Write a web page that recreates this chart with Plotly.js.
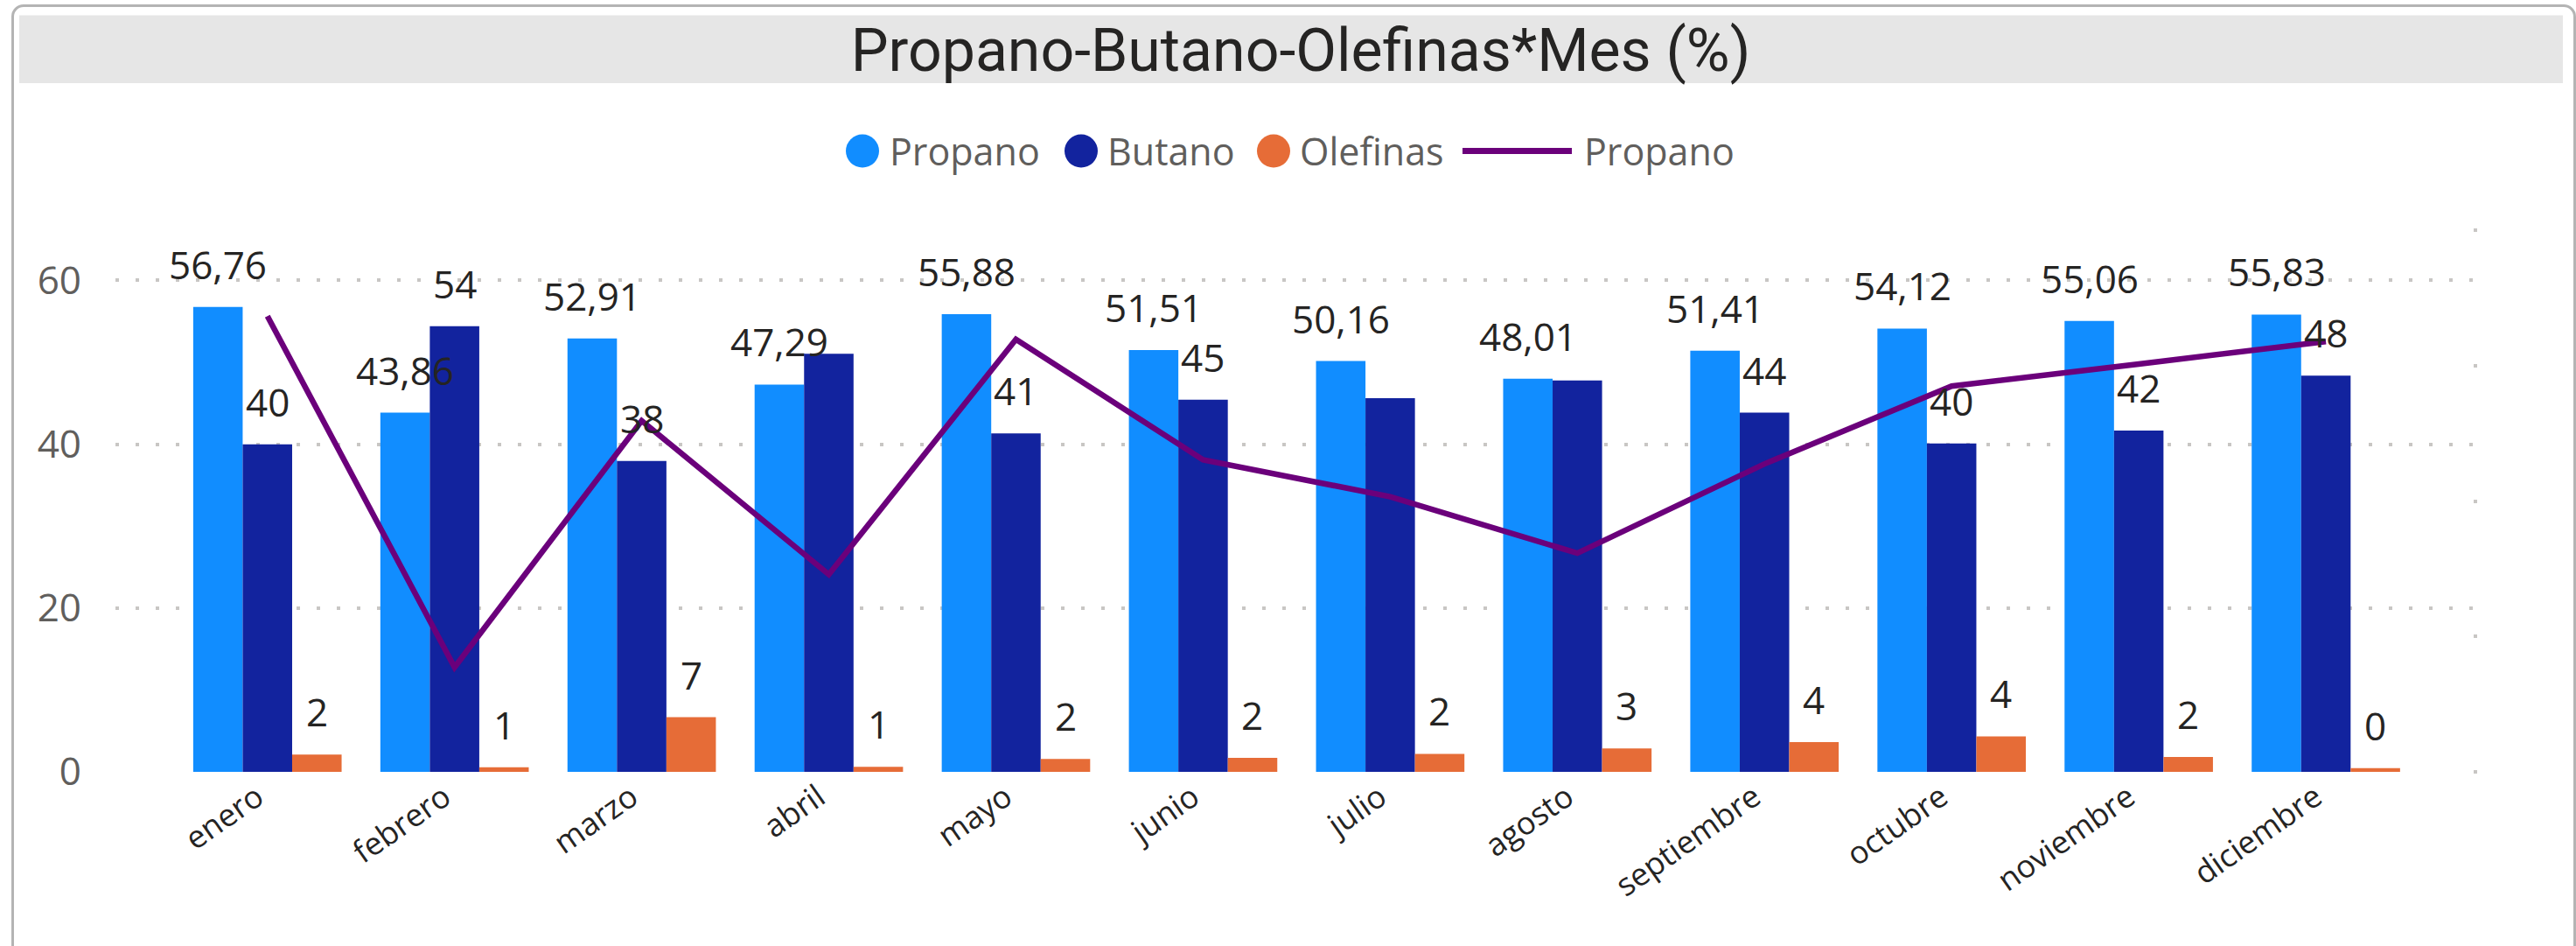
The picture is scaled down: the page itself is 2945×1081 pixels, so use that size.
<!DOCTYPE html>
<html>
<head>
<meta charset="utf-8">
<script src="https://cdn.plot.ly/plotly-3.0.1.min.js"></script>
<style>
  html, body { margin: 0; padding: 0; background: #ffffff; }
  #wrap { position: relative; width: 2945px; height: 1081px; overflow: hidden; }
  #chart { position: absolute; left: 0; top: 0; width: 2945px; height: 1081px; }
  #frame { position: absolute; left: 13px; top: 5px; width: 2926px; height: 1120px;
           border: 3px solid #b4b4b4; border-radius: 14px; pointer-events: none; }
</style>
</head>
<body>
<div id="wrap">
  <div id="chart"></div>
  <div id="frame"></div>
</div>
<script>
// ---- data ----
const months = ['enero','febrero','marzo','abril','mayo','junio','julio','agosto','septiembre','octubre','noviembre','diciembre'];
const propano = [56.76, 43.86, 52.91, 47.29, 55.88, 51.51, 50.16, 48.01, 51.41, 54.12, 55.06, 55.83];
const butano = [40.0, 54.4, 37.95, 51.05, 41.33, 45.43, 45.62, 47.8, 43.86, 40.1, 41.67, 48.38];
const olefinas = [2.1, 0.55, 6.67, 0.62, 1.57, 1.7, 2.2, 2.86, 3.62, 4.33, 1.81, 0.45];
const propanoLinea = [55.65, 12.76, 42.87, 24.1, 52.8, 38.1, 33.6, 26.7, 37.6, 47.1, 49.8, 52.55];
const butanoLabelShown = [true, true, true, false, true, true, false, false, true, true, true, true];
const yTicks = [0, 20, 40, 60];
const legendNames = ['Propano', 'Butano', 'Olefinas', 'Propano'];

// ---- styling ----
const FONT = 'Open Sans, Noto Sans, sans-serif';
const TITLE_FONT = 'Roboto, Open Sans, sans-serif';
const cProp = '#118DFF', cBut = '#12239E', cOle = '#E66C37', cLine = '#6B007B';
const legendColors = [cProp, cBut, cOle, cLine];
const W = 2945, H = 1081;
const plotL = 132, plotR = 2827, plotT = 262.5, plotB = 882;
const yTop = 66.14;
const bargap = 0.207;
const barW = (1 - bargap) / 3;
const px2x = p => (p - plotL) / (plotR - plotL);
const px2y = p => (plotB - p) / (plotB - plotT);

const traces = [
  { type: 'bar', name: legendNames[0], x: months, y: propano, marker: { color: cProp }, hoverinfo: 'skip' },
  { type: 'bar', name: legendNames[1], x: months, y: butano, marker: { color: cBut }, hoverinfo: 'skip' },
  { type: 'bar', name: legendNames[2], x: months, y: olefinas, marker: { color: cOle }, hoverinfo: 'skip' },
  { type: 'scatter', mode: 'lines', name: legendNames[3], x: months, y: propanoLinea, yaxis: 'y2',
    line: { color: cLine, width: 6.5 }, hoverinfo: 'skip' }
];

// ---- data labels ----
const annotations = [];
const series = [
  { vals: propano, fmt: v => v.toFixed(2).replace('.', ','), shown: propano.map(() => true) },
  { vals: butano, fmt: v => String(Math.round(v)), shown: butanoLabelShown },
  { vals: olefinas, fmt: v => String(Math.round(v)), shown: olefinas.map(() => true) }
];
series.forEach((s, k) => {
  s.vals.forEach((v, i) => {
    if (!s.shown[i]) return;
    annotations.push({
      xref: 'x', yref: 'y', x: i + (k - 1) * barW, y: v,
      text: s.fmt(v), showarrow: false, xanchor: 'center', yanchor: 'bottom', yshift: 17,
      font: { family: FONT, size: 44, color: '#252423' }
    });
  });
});

// ---- legend (circle markers, line key) ----
const legY = 172, legR = 19;
const legSymbolCenters = [986, 1236, 1456];     // circle centres (px)
const legTextLeft = [1015, 1264, 1484, 1809];   // text start (px)
const legLine = [1672, 1797];
const shapes = [
  { type: 'rect', xref: 'paper', yref: 'paper', layer: 'below',
    x0: px2x(22), x1: px2x(2930), y0: px2y(94.3), y1: px2y(16.7),
    fillcolor: '#E6E6E6', line: { width: 0 } }
];
legSymbolCenters.forEach((c, k) => {
  shapes.push({ type: 'circle', xref: 'paper', yref: 'paper',
    x0: px2x(c - legR), x1: px2x(c + legR), y0: px2y(legY + legR), y1: px2y(legY - legR),
    fillcolor: legendColors[k], line: { width: 0 } });
});
shapes.push({ type: 'line', xref: 'paper', yref: 'paper',
  x0: px2x(legLine[0]), x1: px2x(legLine[1]), y0: px2y(legY), y1: px2y(legY),
  line: { color: cLine, width: 7 } });
legendNames.forEach((n, k) => {
  annotations.push({ xref: 'paper', yref: 'paper', x: px2x(legTextLeft[k]), y: px2y(legY),
    xanchor: 'left', yanchor: 'middle', showarrow: false, text: n,
    font: { family: FONT, size: 43, color: '#605E5C' } });
});

const layout = {
  width: W, height: H,
  paper_bgcolor: '#ffffff', plot_bgcolor: 'rgba(0,0,0,0)',
  margin: { l: plotL, r: W - plotR, t: plotT, b: H - plotB, pad: 0 },
  separators: ',.',
  barmode: 'group', bargap: bargap, bargroupgap: 0,
  showlegend: false,
  title: {
    text: 'Propano-Butano-Olefinas*Mes (%)',
    font: { family: TITLE_FONT, size: 68, color: '#252423' },
    xref: 'paper', x: px2x(1487), xanchor: 'center',
    yref: 'container', y: 1 - 57.4 / H, yanchor: 'middle'
  },
  xaxis: {
    type: 'category', range: [-0.812, 11.785], automargin: false,
    showgrid: false, zeroline: false, showline: false, ticks: '',
    tickangle: -35, tickfont: { family: FONT, size: 36, color: '#252423' },
    ticklabelstandoff: 0, ticklabelshift: -12, fixedrange: true
  },
  yaxis: {
    range: [0, yTop], automargin: false, tickmode: 'array', tickvals: yTicks,
    ticktext: yTicks.map(String),
    showgrid: true, gridcolor: '#C8C6C4', gridwidth: 4, griddash: '4px,19px',
    zeroline: false, showline: false, ticks: '',
    tickfont: { family: FONT, size: 44, color: '#605E5C' }, ticklabelstandoff: 38,
    fixedrange: true
  },
  yaxis2: {
    overlaying: 'y', side: 'right', range: [0, yTop], automargin: false,
    tickmode: 'array', tickvals: [0, 1, 2, 3, 4].map(k => k * yTop / 4),
    showticklabels: false, ticks: 'outside', ticklen: 4, tickwidth: 4, tickcolor: '#C8C6C4',
    showgrid: false, zeroline: false, showline: false, fixedrange: true
  },
  shapes: shapes,
  annotations: annotations,
  hovermode: false
};

Plotly.newPlot('chart', traces, layout, { staticPlot: true, displayModeBar: false });
</script>
</body>
</html>
